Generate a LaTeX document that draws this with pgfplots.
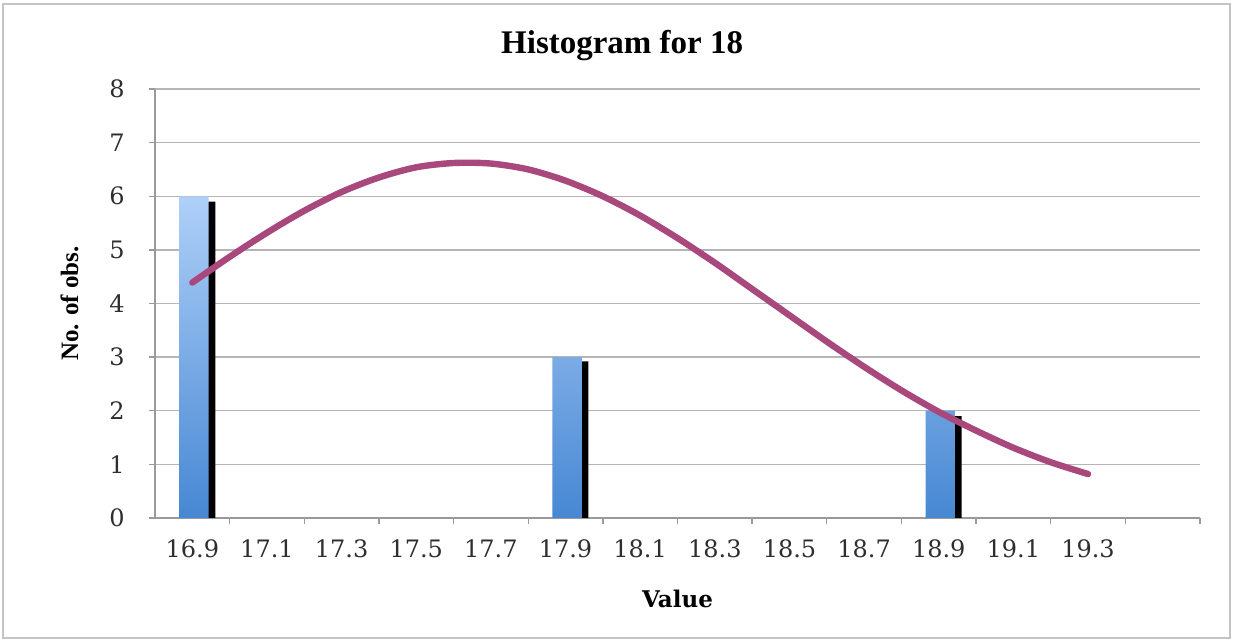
\documentclass[border=0pt]{standalone}
\usepackage{fontspec}
\setmainfont{DejaVu Serif}
\newfontfamily\lib{Liberation Serif}
\usepackage{pgfplots}
\pgfplotsset{compat=1.18}
\usepackage{pgfplotstable}

\definecolor{gridc}{HTML}{B5B5B5}
\definecolor{axisc}{HTML}{9A9A9A}
\definecolor{barTop}{HTML}{AED0F8}
\definecolor{barBot}{HTML}{4787D3}
\definecolor{curvec}{HTML}{A8487D}
\definecolor{framec}{HTML}{C4C4C4}
\definecolor{labc}{HTML}{2E2E2E}

% bins: 16.9 .. 19.3 at positions 0..12 (slot 13 is empty)
\pgfplotstableread{
x y
0 6
5 3
10 2
}\hist
% shadow tops as seen in the picture
\pgfplotstableread{
x y
0 5.9
5 2.92
10 1.9
}\shadow
% fitted normal curve
\pgfplotstableread{
x y
0 4.39
0.5 4.87
1 5.32
1.5 5.73
2 6.08
2.5 6.35
3 6.54
3.5 6.62
4 6.61
4.5 6.50
5 6.29
5.5 6.00
6 5.64
6.5 5.22
7 4.76
7.5 4.27
8 3.78
8.5 3.29
9 2.82
9.5 2.38
10 1.98
10.5 1.63
11 1.31
11.5 1.04
12 0.82
}\curve

\begin{document}
\begin{tikzpicture}[x=1pt,y=1pt]
\path[use as bounding box] (0,0) rectangle (618,320);
\draw[framec, line width=1pt] (1.5,0.8) rectangle (615,318);
\begin{axis}[
  at={(77.5pt,61pt)}, anchor=south west,
  width=522.5pt, height=214.5pt, scale only axis,
  xmin=-0.5, xmax=13.5, ymin=0, ymax=8,
  axis x line*=bottom, axis y line*=left,
  axis line style={draw=axisc, line width=0.7pt, -},
  tick align=outside, major tick length=3pt,
  tick style={axisc, line width=0.7pt},
  xtick={0.5,1.5,2.5,3.5,4.5,5.5,6.5,7.5,8.5,9.5,10.5,11.5,12.5,13.5},
  xticklabels={},
  extra x ticks={0,1,2,3,4,5,6,7,8,9,10,11,12},
  extra x tick labels={16.9,17.1,17.3,17.5,17.7,17.9,18.1,18.3,18.5,18.7,18.9,19.1,19.3},
  extra x tick style={major tick length=0pt},
  ytick={0,1,...,8},
  ymajorgrids, major grid style={gridc, line width=0.7pt},
  /pgf/number format/assume math mode=true,
  tick label style={font=\fontsize{12}{14}\selectfont, text=labc},
  xticklabel style={anchor=base, yshift=-20pt},
  yticklabel style={anchor=east, inner sep=0pt, xshift=-12pt},
  title={Histogram for 18},
  title style={font=\lib\bfseries\fontsize{16.5}{19}\selectfont, at={(0.447,1)}, anchor=base, yshift=12pt},
  xlabel={Value},
  every axis x label/.style={at={([yshift=-45pt]axis description cs:0.5,0)}, anchor=base, font=\bfseries\fontsize{11.5}{13}\selectfont},
  ylabel={No. of obs.},
  every axis y label/.style={at={([xshift=-38.5pt]axis description cs:0,0.5)}, rotate=90, anchor=base, font=\lib\bfseries\fontsize{12.5}{14}\selectfont},
]
\addplot[ybar, bar width=0.395, bar shift=0.11, fill=black, draw=none] table[x=x, y=y] {\shadow};
\addplot[ybar, bar width=0.395, bar shift=0.02, draw=none, top color=barTop, bottom color=barBot] table[x=x, y=y] {\hist};
\addplot[smooth, no marks, curvec, line width=3.2pt, line cap=round] table[x=x, y=y] {\curve};
\end{axis}
\end{tikzpicture}
\end{document}
